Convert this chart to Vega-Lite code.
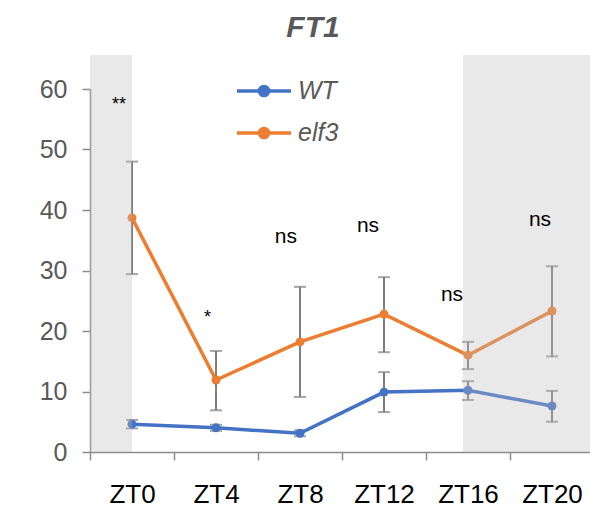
{
  "$schema": "https://vega.github.io/schema/vega-lite/v6.json",
  "width": 500,
  "height": 363,
  "autosize": "none",
  "padding": {"left": 90, "top": 89, "right": 0, "bottom": 61},
  "background": "white",
  "config": {
    "view": {"stroke": null},
    "font": "Liberation Sans",
    "axis": {"labelFont": "Liberation Sans", "grid": false, "domainColor": "#8C8C8C", "tickColor": "#8C8C8C", "domainWidth": 1.5, "tickWidth": 1.5, "tickSize": 8}
  },
  "title": {
    "text": "FT1",
    "font": "Liberation Sans",
    "fontSize": 30,
    "fontWeight": "bold",
    "fontStyle": "italic",
    "color": "#595959",
    "anchor": "middle",
    "dx": -27,
    "offset": 12
  },
  "datasets": {
    "series": [
      {"zt": 0, "genotype": "WT", "mean": 4.6, "lo": 3.9, "hi": 5.3},
      {"zt": 4, "genotype": "WT", "mean": 4.0, "lo": 3.5, "hi": 4.5},
      {"zt": 8, "genotype": "WT", "mean": 3.1, "lo": 2.6, "hi": 3.6},
      {"zt": 12, "genotype": "WT", "mean": 9.9, "lo": 6.6, "hi": 13.2},
      {"zt": 16, "genotype": "WT", "mean": 10.2, "lo": 8.6, "hi": 11.7},
      {"zt": 20, "genotype": "WT", "mean": 7.6, "lo": 5.0, "hi": 10.1},
      {"zt": 0, "genotype": "elf3", "mean": 38.7, "lo": 29.4, "hi": 48.0},
      {"zt": 4, "genotype": "elf3", "mean": 11.9, "lo": 6.9, "hi": 16.7},
      {"zt": 8, "genotype": "elf3", "mean": 18.2, "lo": 9.1, "hi": 27.3},
      {"zt": 12, "genotype": "elf3", "mean": 22.8, "lo": 16.5, "hi": 28.9},
      {"zt": 16, "genotype": "elf3", "mean": 16.0, "lo": 13.7, "hi": 18.2},
      {"zt": 20, "genotype": "elf3", "mean": 23.3, "lo": 15.8, "hi": 30.7}
    ],
    "shade": [
      {"start": -2, "end": 0, "bottom": 0, "top": 65.6},
      {"start": 15.76, "end": 21.81, "bottom": 0, "top": 65.6}
    ],
    "notes": [
      {"zt": -0.62, "y": 56.5, "label": "**", "size": "small"},
      {"zt": 3.6, "y": 21.3, "label": "*", "size": "small"},
      {"zt": 7.33, "y": 34.5, "label": "ns", "size": "large"},
      {"zt": 11.24, "y": 36.4, "label": "ns", "size": "large"},
      {"zt": 15.24, "y": 25.0, "label": "ns", "size": "large"},
      {"zt": 19.43, "y": 37.4, "label": "ns", "size": "large"}
    ]
  },
  "encoding": {
    "x": {
      "field": "zt",
      "type": "quantitative",
      "scale": {"domain": [-2, 21.81], "nice": false, "zero": false},
      "axis": {
        "title": null,
        "values": [-2, 2, 6, 10, 14, 18],
        "labelExpr": "'ZT' + (datum.value + 2)",
        "labelOffset": 42,
        "labelFontSize": 26,
        "labelColor": "#000000",
        "labelPadding": 21,
        "labelFlush": false,
        "labelOverlap": false
      }
    },
    "y": {
      "type": "quantitative",
      "scale": {"domain": [0, 60], "nice": false, "zero": true},
      "axis": {
        "title": null,
        "values": [0, 10, 20, 30, 40, 50, 60],
        "labelFontSize": 25,
        "labelColor": "#595959",
        "labelPadding": 15
      }
    }
  },
  "layer": [
    {
      "data": {"name": "series"},
      "mark": {"type": "rule", "color": "#7F7F7F", "strokeWidth": 2},
      "encoding": {"y": {"field": "lo", "type": "quantitative"}, "y2": {"field": "hi"}}
    },
    {
      "data": {"name": "series"},
      "mark": {"type": "tick", "orient": "horizontal", "color": "#7F7F7F", "thickness": 2, "size": 12},
      "encoding": {"y": {"field": "lo", "type": "quantitative"}}
    },
    {
      "data": {"name": "series"},
      "mark": {"type": "tick", "orient": "horizontal", "color": "#7F7F7F", "thickness": 2, "size": 12},
      "encoding": {"y": {"field": "hi", "type": "quantitative"}}
    },
    {
      "data": {"name": "series"},
      "mark": {"type": "line", "strokeWidth": 3.5},
      "encoding": {
        "y": {"field": "mean", "type": "quantitative"},
        "color": {
          "field": "genotype",
          "type": "nominal",
          "scale": {"domain": ["WT", "elf3"], "range": ["#4472C4", "#ED7D31"]},
          "legend": {
            "title": null,
            "orient": "none",
            "legendX": 145,
            "legendY": -27,
            "padding": 0,
            "symbolType": "M-1,0L1,0M0.17,0A0.17,0.17,0,1,1,-0.17,0A0.17,0.17,0,1,1,0.17,0",
            "symbolSize": 2916,
            "symbolStrokeWidth": 3.5,
            "labelFontSize": 25,
            "labelFontStyle": "italic",
            "labelColor": "#595959",
            "labelOffset": 5,
            "rowPadding": -8,
            "encode": {"symbols": {"update": {"fill": {"scale": "color", "field": "value"}, "fillOpacity": {"value": 1}}}}
          }
        }
      }
    },
    {
      "data": {"name": "series"},
      "mark": {"type": "circle", "size": 80, "opacity": 1},
      "encoding": {
        "y": {"field": "mean", "type": "quantitative"},
        "color": {"field": "genotype", "type": "nominal", "legend": null}
      }
    },
    {
      "data": {"name": "shade"},
      "mark": {"type": "rect", "color": "#BBBBBB", "opacity": 0.33},
      "encoding": {
        "x": {"field": "start", "type": "quantitative"},
        "x2": {"field": "end"},
        "y": {"field": "bottom", "type": "quantitative"},
        "y2": {"field": "top"}
      }
    },
    {
      "data": {"name": "notes"},
      "mark": {"type": "text", "align": "center", "baseline": "alphabetic", "color": "#000000"},
      "encoding": {
        "y": {"field": "y", "type": "quantitative"},
        "text": {"field": "label"},
        "size": {"field": "size", "type": "nominal", "scale": {"domain": ["small", "large"], "range": [18, 21]}, "legend": null}
      }
    }
  ]
}
